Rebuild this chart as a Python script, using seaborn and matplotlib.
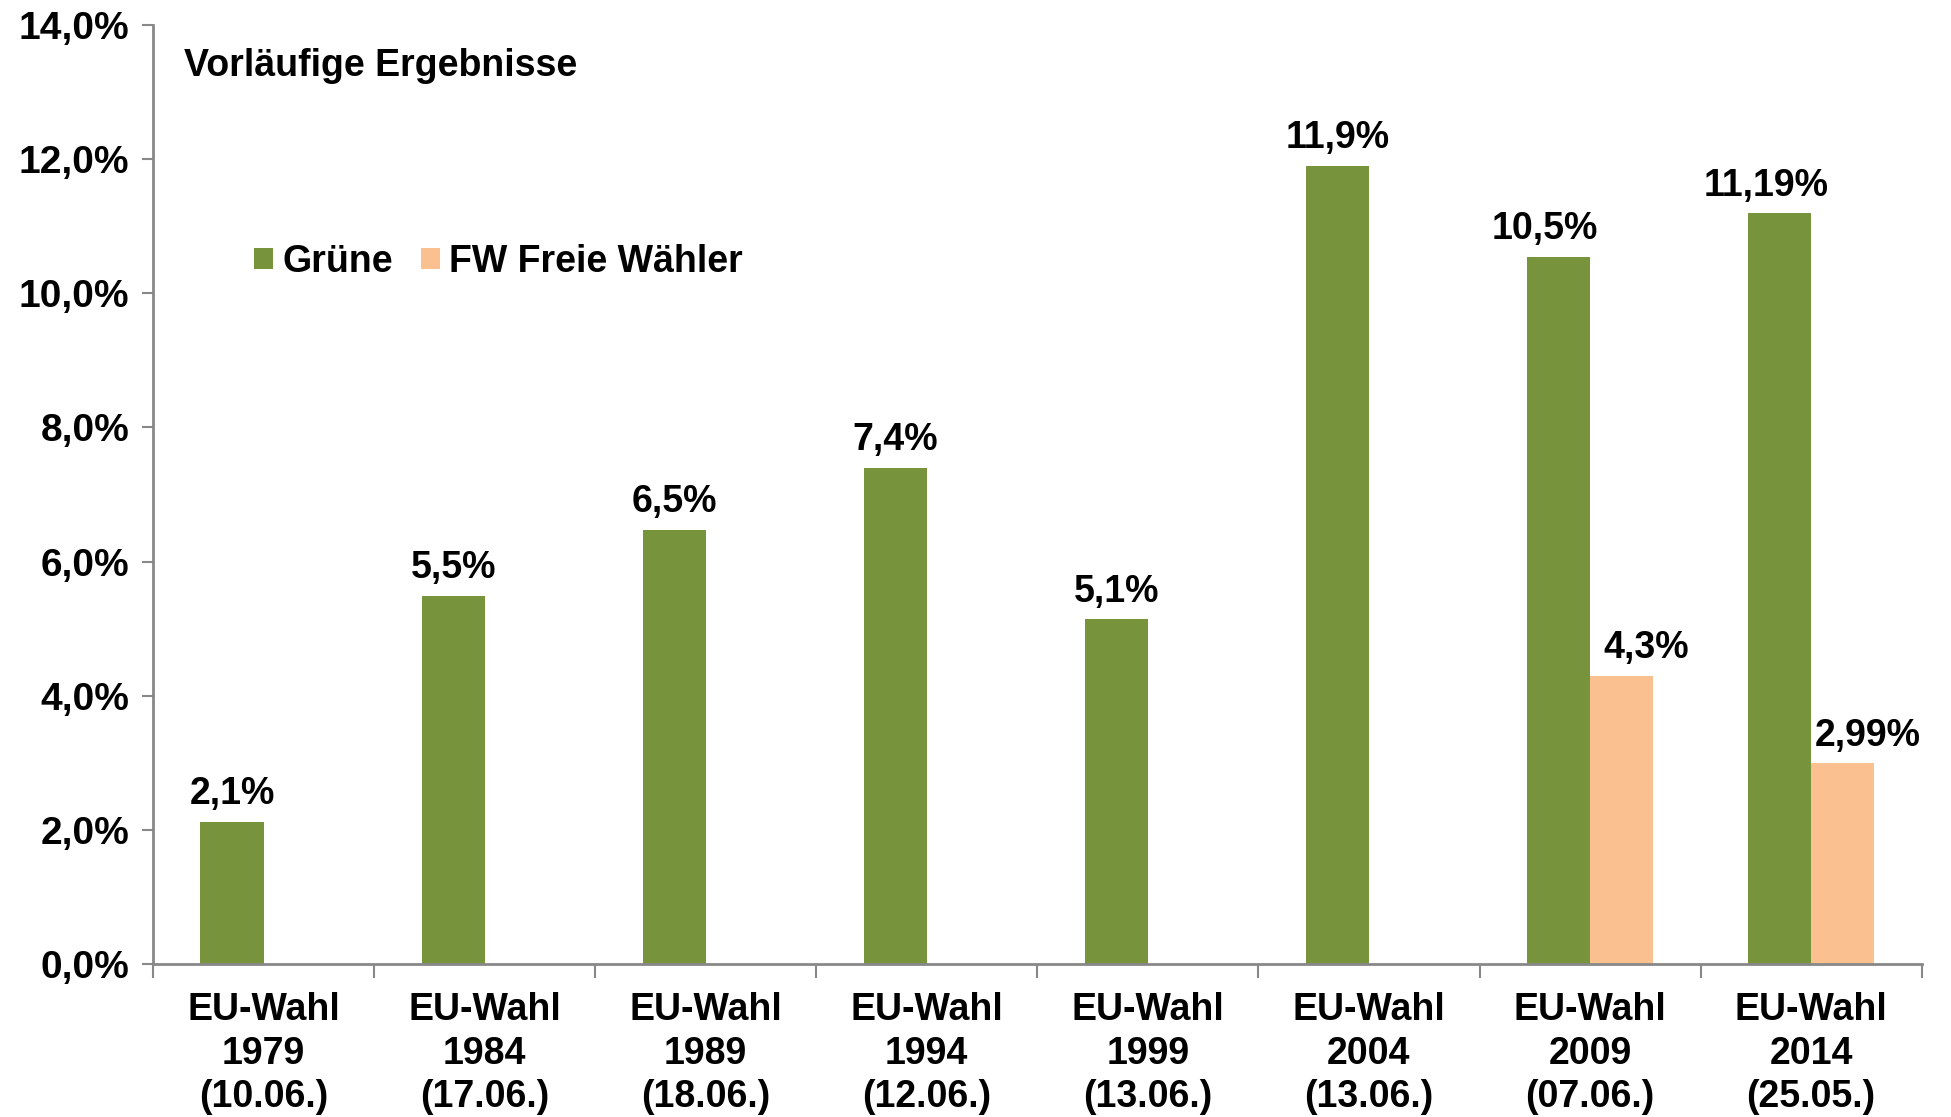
import seaborn as sns, pandas as pd
import matplotlib.pyplot as plt

elections = ['EU-Wahl\n1979\n(10.06.)', 'EU-Wahl\n1984\n(17.06.)', 'EU-Wahl\n1989\n(18.06.)',
             'EU-Wahl\n1994\n(12.06.)', 'EU-Wahl\n1999\n(13.06.)', 'EU-Wahl\n2004\n(13.06.)',
             'EU-Wahl\n2009\n(07.06.)', 'EU-Wahl\n2014\n(25.05.)']
gruene = [2.12, 5.49, 6.47, 7.40, 5.14, 11.90, 10.54, 11.19]
gruene_labels = ['2,1%', '5,5%', '6,5%', '7,4%', '5,1%', '11,9%', '10,5%', '11,19%']
fw_elections = ['EU-Wahl\n2009\n(07.06.)', 'EU-Wahl\n2014\n(25.05.)']
fw = [4.30, 2.99]
fw_labels = ['4,3%', '2,99%']
parties = ['Grüne', 'FW Freie Wähler']
colors = ['#77933C', '#FAC090']
yticks = [0, 2, 4, 6, 8, 10, 12, 14]


def compose_data():
    data = []
    for e, v in zip(elections, gruene):
        data.append([e, v, parties[0]])
    for e, v in zip(fw_elections, fw):
        data.append([e, v, parties[1]])
    return pd.DataFrame(data=data, columns=['wahl', 'anteil', 'partei'])


sns.set_style('white')
plt.rcParams['font.family'] = ['Liberation Sans', 'DejaVu Sans']
plt.rcParams['font.weight'] = 'bold'
plt.rcParams['text.color'] = 'black'
plt.rcParams['xtick.color'] = 'black'
plt.rcParams['ytick.color'] = 'black'

fig = plt.figure(figsize=(19.51, 11.17), dpi=100)
ax = fig.add_axes([0.0784, 0.137, 0.9066, 0.8406])

frame = compose_data()
sns.barplot(x='wahl', y='anteil', hue='partei', data=frame, order=elections,
            hue_order=parties, palette=colors, width=0.57, gap=0, saturation=1,
            linewidth=0, ax=ax)

# labels sit a bit apart where two bars share a group
shift = [-10, 18]
for k, (container, labels) in enumerate(zip(ax.containers, [gruene_labels, fw_labels])):
    anns = ax.bar_label(container, labels=labels, padding=7, fontsize=27,
                        fontweight='bold', color='black')
    for bar, ann in zip(container, anns):
        x = bar.get_x() + bar.get_width() / 2
        if elections[round(x)] in fw_elections:
            ann.xyann = (shift[k], 7)

ax.set_ylim(0, 14)
ax.set_xlim(-0.5, len(elections) - 0.5)
ax.set_yticks(yticks)
ax.set_yticklabels([f'{t:.1f}%'.replace('.', ',') for t in yticks])
ax.set_xlabel('')
ax.set_ylabel('')

for side in ['top', 'right']:
    ax.spines[side].set_visible(False)
for side in ['left', 'bottom']:
    ax.spines[side].set_color('#888888')
    ax.spines[side].set_linewidth(2)

ax.tick_params(axis='y', labelsize=28, length=8, width=1.5, color='#888888',
               labelcolor='black', pad=9, left=True)
ax.tick_params(axis='x', which='major', labelsize=27, length=0, pad=20,
               labelcolor='black', bottom=True)
ax.set_xticks([i - 0.5 for i in range(len(elections) + 1)], minor=True)
ax.tick_params(axis='x', which='minor', length=10, width=1.5, color='#888888', bottom=True)
for lab in ax.get_xticklabels():
    lab.set_linespacing(1.28)
for lab in ax.get_xticklabels() + ax.get_yticklabels():
    lab.set_fontweight('bold')

ax.text(0.0175, 0.956, 'Vorläufige Ergebnisse', transform=ax.transAxes,
        fontsize=27, fontweight='bold', va='center', ha='left', color='black')

handles, labels = ax.get_legend_handles_labels()
leg = ax.legend(handles, labels, loc='center left', bbox_to_anchor=(0.038, 0.748), ncol=2,
                frameon=False, handlelength=0.5, handleheight=0.5,
                handletextpad=0.25, columnspacing=0.75, prop={'weight': 'bold', 'size': 27})
for t in leg.get_texts():
    t.set_color('black')

fig.savefig('out.png', dpi=100)
